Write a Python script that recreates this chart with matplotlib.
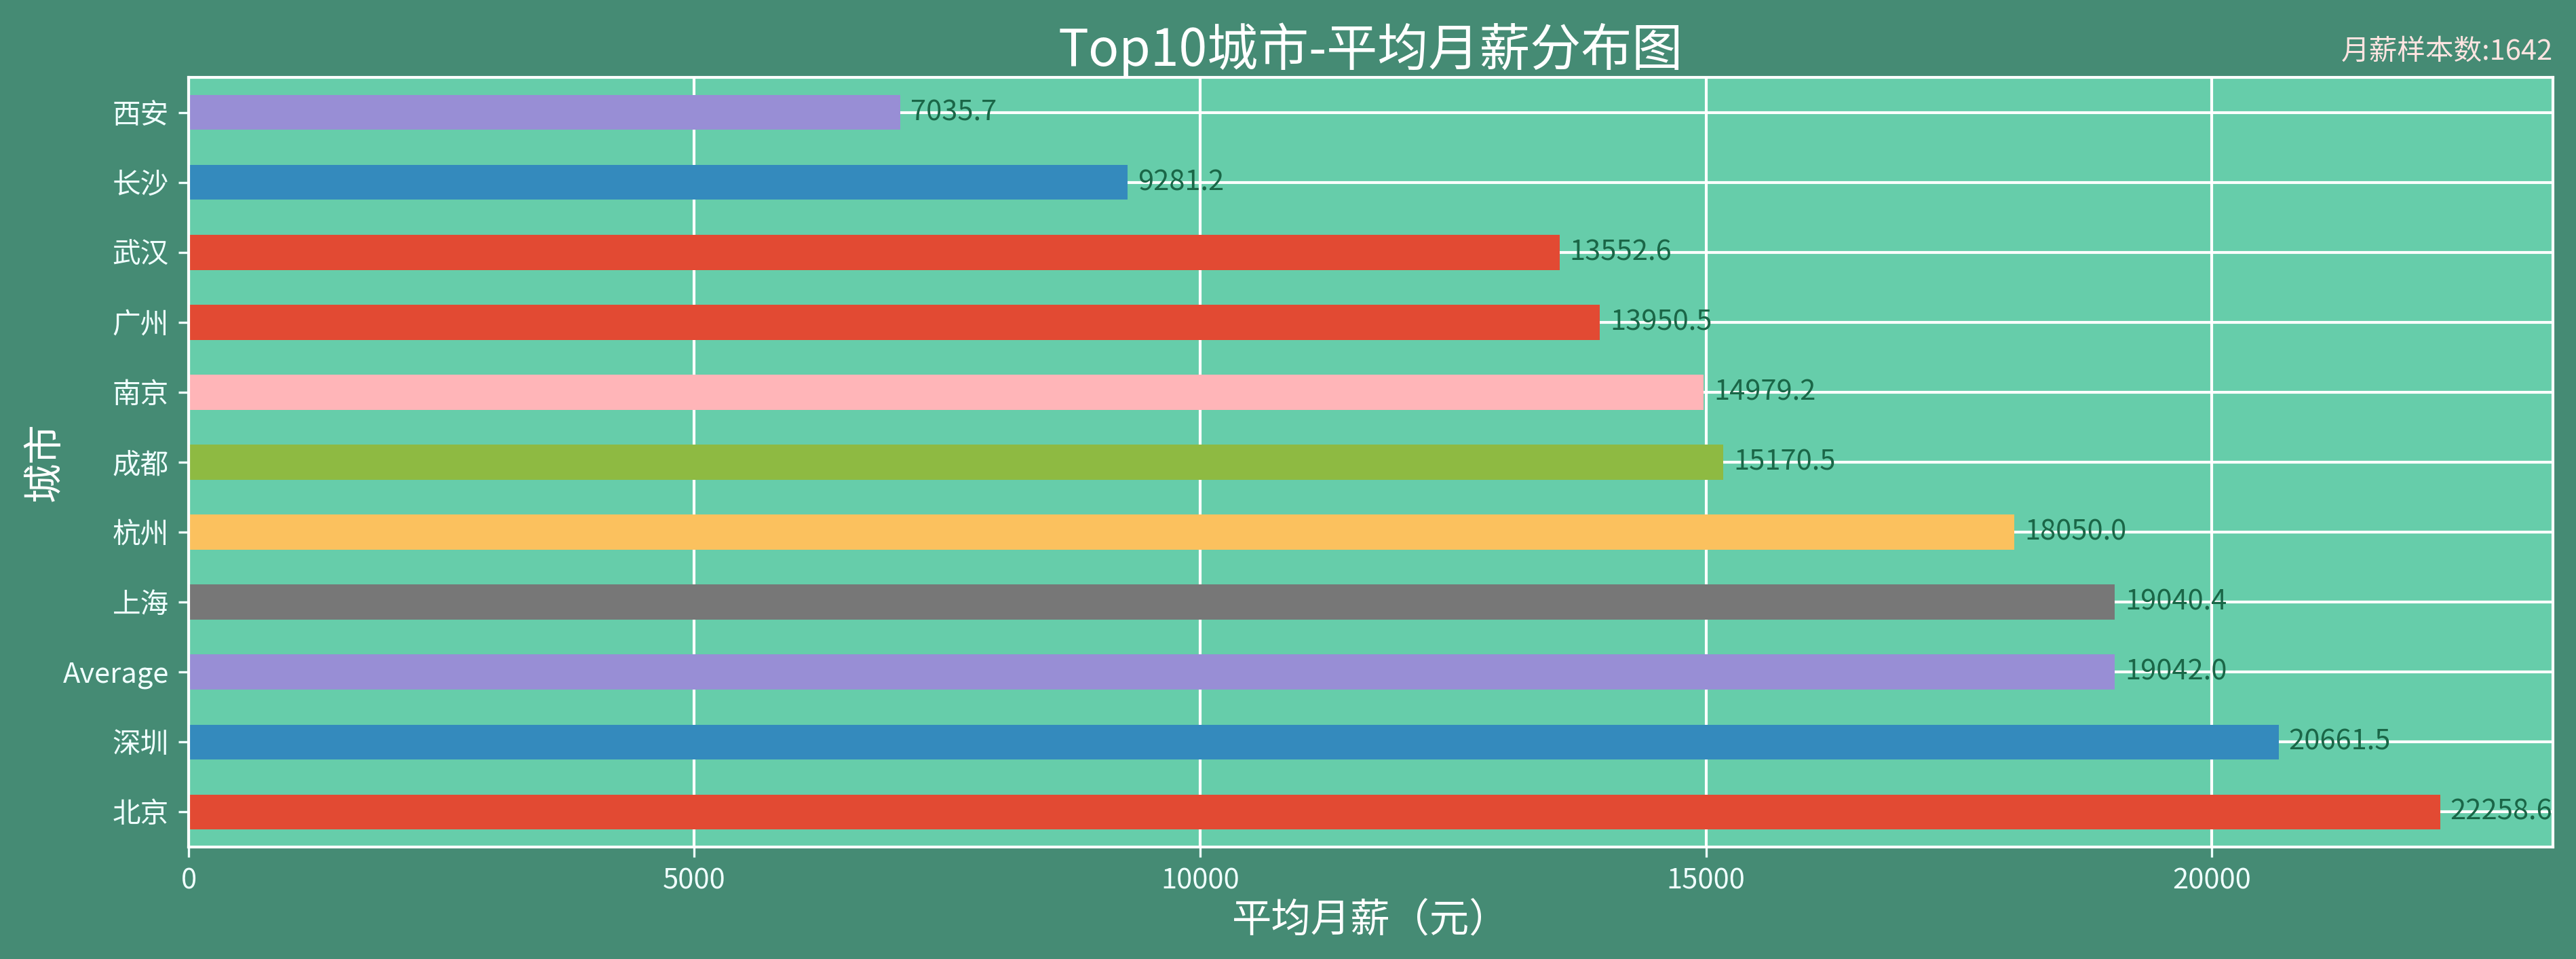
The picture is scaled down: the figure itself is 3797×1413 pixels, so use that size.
import matplotlib
matplotlib.use("Agg")
import matplotlib.pyplot as plt

plt.rcParams['font.family'] = ['Noto Sans CJK SC', 'DejaVu Sans']
plt.rcParams['axes.unicode_minus'] = False

# --------------------------------------------------------
# Data (bottom to top)
# --------------------------------------------------------
cities = ['北京', '深圳', 'Average', '上海', '杭州', '成都',
          '南京', '广州', '武汉', '长沙', '西安']
salaries = [22258.6, 20661.5, 19042.0, 19040.4, 18050.0, 15170.5,
            14979.2, 13950.5, 13552.6, 9281.2, 7035.7]
bar_colors = ['#E24A33', '#348ABD', '#988ED5', '#777777', '#FBC15E', '#8EBA42',
              '#FFB5B8', '#E24A33', '#E24A33', '#348ABD', '#988ED5']
sample_count = 1642

# --------------------------------------------------------
# Plot
# --------------------------------------------------------
fig = plt.figure(figsize=(3797 / 300, 1413 / 300), dpi=300, facecolor='#458B74')
ax = fig.add_axes([0.0732, 0.1168, 0.9178, 0.8025], facecolor='#66CDAA')

ax.set_axisbelow(True)
ax.grid(True, color='white', linewidth=1.0)

ypos = list(range(len(cities)))
ax.barh(ypos, salaries, height=0.5, color=bar_colors)
ax.margins(x=0.05)

for y, v in zip(ypos, salaries):
    ax.text(v + 100, y, f'{v:.1f}', va='center', ha='left',
            fontsize=10, color='#1A6647')

ax.set_yticks(ypos)
ax.set_yticklabels(cities)
ax.set_ylim(-0.5, len(cities) - 0.5)
ax.set_xticks([0, 5000, 10000, 15000, 20000])

for side in ['left', 'right', 'top', 'bottom']:
    ax.spines[side].set_color('white')
    ax.spines[side].set_linewidth(1.0)

ax.tick_params(colors='#F0FFFF', labelsize=10, length=3.5, width=0.8)

ax.set_title('Top10城市-平均月薪分布图', fontsize=18, color='white', pad=4)
ax.set_xlabel('平均月薪（元）', fontsize=14, color='white', labelpad=2)
ax.set_ylabel('城市', fontsize=14, color='white')
ax.yaxis.set_label_coords(-0.052, 0.5)

ax.text(1.0, 1.015, f'月薪样本数:{sample_count}', transform=ax.transAxes,
        ha='right', va='bottom', fontsize=10, color='#FFE4E1')

fig.savefig('out.png', dpi=300, facecolor=fig.get_facecolor())
